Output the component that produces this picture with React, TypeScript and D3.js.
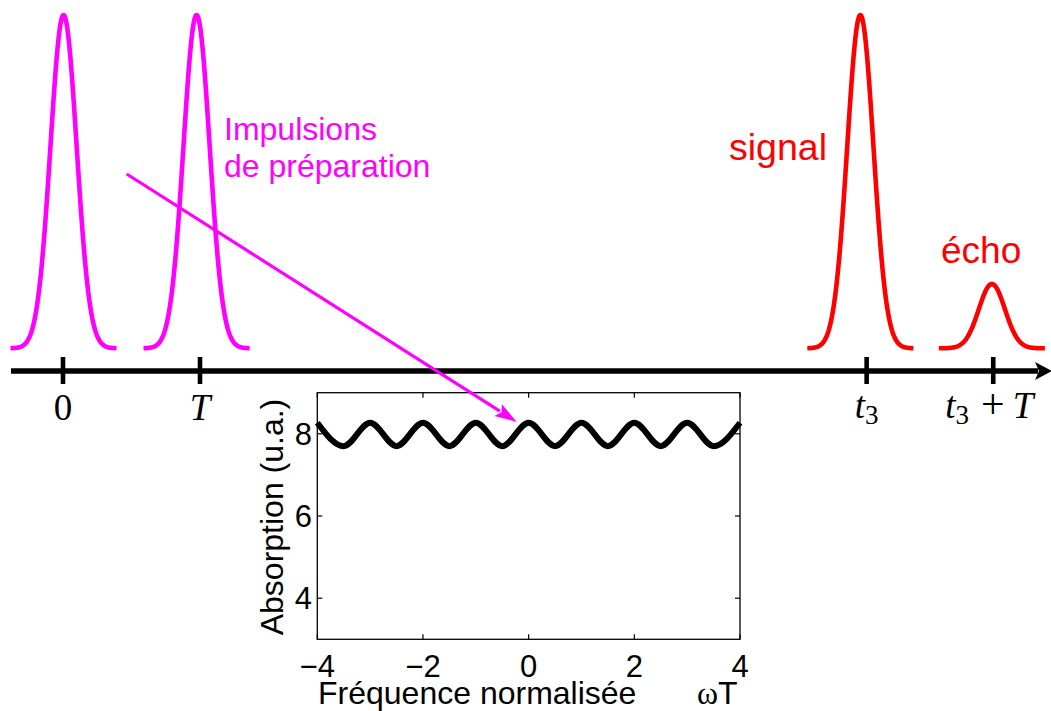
import React from 'react';
import * as d3 from 'd3';

const W = 1051;
const H = 711;

// ---- Timeline (top) data ----
const timeTicks = [0, 1, 5.866, 6.79];
const pulseCenters = [0.004, 0.975, 5.82, 6.78];
const pulseAmps = [1, 1, 1, 0.193];
const pulseColors = ['#ff00ff', '#ff00ff', '#ff0000', '#ff0000'];
const pulseSigma = 0.0956;
const pulseHalfSpan = 0.387;

// ---- Inset data (absorption vs normalised frequency) ----
const freq = [-4, -3.5, -3, -2.5, -2, -1.5, -1, -0.5, 0, 0.5, 1, 1.5, 2, 2.5, 3, 3.5, 4];
const absorption = [8.27, 7.7, 8.27, 7.7, 8.27, 7.7, 8.27, 7.7, 8.27, 7.7, 8.27, 7.7, 8.27, 7.7, 8.27, 7.7, 8.27];
const insetXTicks = [-4, -2, 0, 2, 4];
const insetYTicks = [4, 6, 8];

// annotation arrow anchors (start in timeline units, end in inset units)
const arrowStart = { t: 0.465, a: 0.523 };
const arrowEnd = { f: -0.226, v: 8.29 };

const SANS = '"Liberation Sans", Arial, Helvetica, sans-serif';
const SERIF = '"Liberation Serif", "Times New Roman", serif';

export default function App() {
  const xT = d3.scaleLinear().domain([0, 1]).range([63, 200]);
  const yT = d3.scaleLinear().domain([0, 1]).range([348.3, 15]);

  const xI = d3.scaleLinear().domain([-4, 4]).range([317.3, 740]);
  const yI = d3.scaleLinear().domain([3, 9]).range([639.3, 392.7]);

  const pulseLine = d3
    .line<[number, number]>()
    .x((d) => xT(d[0]))
    .y((d) => yT(d[1]));

  const pulsePaths = pulseCenters.map((c, i) => {
    const pts: [number, number][] = d3.range(0, 201).map((k) => {
      const t = c - pulseHalfSpan + (2 * pulseHalfSpan * k) / 200;
      const v = pulseAmps[i] * Math.exp(-((t - c) ** 2) / (2 * pulseSigma * pulseSigma));
      return [t, v];
    });
    return pulseLine(pts) as string;
  });

  const insetLine = d3
    .line<number>()
    .x((_, i) => xI(freq[i]))
    .y((d) => yI(d))
    .curve(d3.curveMonotoneX);

  const axisY = 371;
  const axisX0 = 11;
  const axisX1 = 1038;

  // arrow
  const ax0 = xT(arrowStart.t);
  const ay0 = yT(arrowStart.a);
  const ax1 = xI(arrowEnd.f);
  const ay1 = yI(arrowEnd.v);
  const dx = ax1 - ax0;
  const dy = ay1 - ay0;
  const len = Math.hypot(dx, dy);
  const ux = dx / len;
  const uy = dy / len;
  const headL = 22;
  const headW = 7;
  const bx = ax1 - ux * headL;
  const by = ay1 - uy * headL;
  const head = `M${ax1},${ay1} L${bx - uy * headW},${by + ux * headW} L${bx + ux * 4},${by + uy * 4} L${bx + uy * headW},${by - ux * headW} Z`;

  const tickLen = 5;
  const [bx0, bx1] = xI.range();
  const [by0, by1] = yI.range();

  return (
    <svg
      width={W}
      height={H}
      viewBox={`0 0 ${W} ${H}`}
      style={{ position: 'absolute', left: 0, top: 0, display: 'block', background: '#fff' }}
    >
      <rect x={0} y={0} width={W} height={H} fill="#fff" />

      {/* pulses */}
      {pulsePaths.map((p, i) => (
        <path key={i} d={p} fill="none" stroke={pulseColors[i]} strokeWidth={4.6} strokeLinejoin="round" />
      ))}

      {/* timeline axis */}
      <line x1={axisX0} y1={axisY} x2={axisX1} y2={axisY} stroke="#000" strokeWidth={5.5} />
      <path d={`M1052,${axisY} L1035,${axisY - 9} L1039,${axisY} L1035,${axisY + 9} Z`} fill="#000" />
      {timeTicks.map((t, i) => (
        <line key={i} x1={xT(t)} x2={xT(t)} y1={357} y2={384} stroke="#000" strokeWidth={4.6} />
      ))}

      {/* timeline tick labels */}
      <text x={xT(timeTicks[0])} y={420} textAnchor="middle" fontFamily={SERIF} fontSize={37}>
        0
      </text>
      <text x={xT(timeTicks[1])} y={420} textAnchor="middle" fontFamily={SERIF} fontSize={37} fontStyle="italic">
        T
      </text>
      <text x={xT(timeTicks[2])} y={418} textAnchor="middle" fontFamily={SERIF} fontSize={37}>
        <tspan fontStyle="italic">t</tspan>
        <tspan fontSize={27} dy={6}>3</tspan>
      </text>
      <text x={xT(timeTicks[3]) - 4} y={418} textAnchor="middle" fontFamily={SERIF} fontSize={37}>
        <tspan fontStyle="italic">t</tspan>
        <tspan fontSize={27} dy={6}>3</tspan>
        <tspan dy={-6} dx={12} fontSize={42}>+</tspan>
        <tspan dx={8} fontStyle="italic">T</tspan>
      </text>

      {/* pulse annotations */}
      <text x={224} y={140} fill="#ff00ff" fontFamily={SANS} fontSize={32}>
        Impulsions
      </text>
      <text x={224} y={177} fill="#ff00ff" fontFamily={SANS} fontSize={32}>
        de préparation
      </text>
      <text x={729} y={160} fill="#ff0000" fontFamily={SANS} fontSize={37.5}>
        signal
      </text>
      <text x={941} y={263} fill="#ff0000" fontFamily={SANS} fontSize={37}>
        écho
      </text>

      {/* inset */}
      <rect x={bx0} y={by1} width={bx1 - bx0} height={by0 - by1} fill="#fff" stroke="#000" strokeWidth={1.3} />
      {insetXTicks.map((v, i) => (
        <g key={'xt' + i}>
          <line x1={xI(v)} x2={xI(v)} y1={by0} y2={by0 - tickLen} stroke="#000" strokeWidth={1.2} />
          <line x1={xI(v)} x2={xI(v)} y1={by1} y2={by1 + tickLen} stroke="#000" strokeWidth={1.2} />
          <text x={xI(v)} y={677} textAnchor="middle" fontFamily={SANS} fontSize={31}>
            {v < 0 ? '\u2212' + Math.abs(v) : String(v)}
          </text>
        </g>
      ))}
      {insetYTicks.map((v, i) => (
        <g key={'yt' + i}>
          <line x1={bx0} x2={bx0 + tickLen} y1={yI(v)} y2={yI(v)} stroke="#000" strokeWidth={1.2} />
          <line x1={bx1} x2={bx1 - tickLen} y1={yI(v)} y2={yI(v)} stroke="#000" strokeWidth={1.2} />
          <text x={312} y={yI(v)} dy="0.36em" textAnchor="end" fontFamily={SANS} fontSize={31}>
            {v}
          </text>
        </g>
      ))}
      <path d={insetLine(absorption) as string} fill="none" stroke="#000" strokeWidth={6} />
      <text
        transform={`translate(283,517) rotate(-90)`}
        textAnchor="middle"
        fontFamily={SANS}
        fontSize={32}
      >
        Absorption (u.a.)
      </text>
      <text x={318} y={704} fontFamily={SANS} fontSize={32}>
        Fréquence normalisée
      </text>
      <text x={697} y={704} fontFamily={SANS} fontSize={32}>
        <tspan fontFamily={SERIF}>ω</tspan>
        <tspan>T</tspan>
      </text>

      {/* arrow */}
      <line x1={ax0} y1={ay0} x2={bx + ux * 2} y2={by + uy * 2} stroke="#ff00ff" strokeWidth={3.2} />
      <path d={head} fill="#ff00ff" />
    </svg>
  );
}
